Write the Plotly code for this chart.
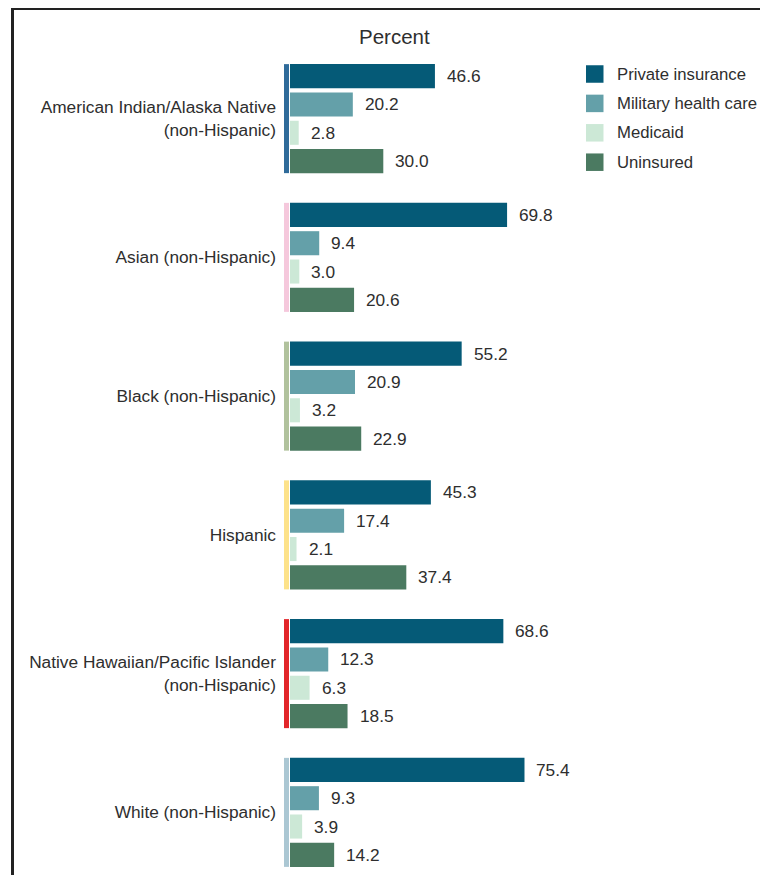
import plotly.graph_objects as go

groups = [
    "American Indian/Alaska Native<br>(non-Hispanic)",
    "Asian (non-Hispanic)",
    "Black (non-Hispanic)",
    "Hispanic",
    "Native Hawaiian/Pacific Islander<br>(non-Hispanic)",
    "White (non-Hispanic)",
]
group_colors = ["#2f6b9a", "#f5c8dc", "#b1c29d", "#fde28a", "#e2262a", "#abc7d3"]

series_names = ["Private insurance", "Military health care", "Medicaid", "Uninsured"]
series_colors = ["#055a77", "#64a0a9", "#cce8d6", "#4b7a61"]

private = [46.6, 69.8, 55.2, 45.3, 68.6, 75.4]
military = [20.2, 9.4, 20.9, 17.4, 12.3, 9.3]
medicaid = [2.8, 3.0, 3.2, 2.1, 6.3, 3.9]
uninsured = [30.0, 20.6, 22.9, 37.4, 18.5, 14.2]
series_values = [private, military, medicaid, uninsured]

OFF = 8  # page body margin
W, H = 768 - OFF, 883 - 2 * OFF
ML, MR, MT, MB = 284 - OFF, 0, 62 - OFF, 6
PW, PH = W - ML - MR, H - MT - MB
G = 4.9          # group pitch in slot units
BW = 0.85        # bar thickness in slot units
PXU = 3.11       # px per percent
XMIN = -6 / PXU
XMAX = (W - (290 - OFF)) / PXU
FONT = "Liberation Sans, Arial, sans-serif"
TXT = "#2e2e2e"
FS = 17.3
FS_LEG = 16.7


def px2paper_x(px):
    return (px - OFF - ML) / PW


def px2paper_y(py):
    return 1 - (py - OFF - MT) / PH


fig = go.Figure()
annotations = []
shapes = []

for k, (name, color, vals) in enumerate(zip(series_names, series_colors, series_values)):
    ys = [g * G + k for g in range(len(groups))]
    fig.add_trace(go.Bar(
        x=vals, y=ys, orientation="h", width=BW, name=name,
        marker=dict(color=color, line=dict(width=0)), showlegend=False,
        hoverinfo="x+name",
    ))
    for v, yy in zip(vals, ys):
        annotations.append(dict(
            x=v, y=yy, xref="x", yref="y", text=f"{v:.1f}", showarrow=False,
            xanchor="left", yanchor="middle", xshift=10,
            font=dict(family=FONT, size=FS, color=TXT),
        ))

# group color strips
for g, c in enumerate(group_colors):
    shapes.append(dict(
        type="rect", xref="x", yref="y",
        x0=XMIN, x1=-1.0 / PXU,
        y0=g * G - BW / 2, y1=g * G + 3 + BW / 2,
        fillcolor=c, line=dict(width=0), layer="above",
    ))

# manual legend
for i, (name, color) in enumerate(zip(series_names, series_colors)):
    cy = 74 + i * 29.4
    shapes.append(dict(
        type="rect", xref="paper", yref="paper",
        x0=px2paper_x(586), x1=px2paper_x(603.5),
        y0=px2paper_y(cy + 8.75), y1=px2paper_y(cy - 8.75),
        fillcolor=color, line=dict(width=0),
    ))
    annotations.append(dict(
        x=px2paper_x(614.5), y=px2paper_y(cy), xref="paper", yref="paper",
        text=name, showarrow=False, xanchor="left", yanchor="middle",
        font=dict(family=FONT, size=FS_LEG, color=TXT),
    ))

# title "Percent"
annotations.append(dict(
    x=px2paper_x(394.5), y=px2paper_y(36), xref="paper", yref="paper",
    text="Percent", showarrow=False, xanchor="center", yanchor="middle",
    font=dict(family=FONT, size=20.5, color=TXT),
))

# frame lines (top and left)
shapes.append(dict(type="line", xref="paper", yref="paper",
                   x0=px2paper_x(11), x1=px2paper_x(790),
                   y0=px2paper_y(8.5), y1=px2paper_y(8.5),
                   line=dict(color="#222222", width=3)))
shapes.append(dict(type="line", xref="paper", yref="paper",
                   x0=px2paper_x(12.5), x1=px2paper_x(12.5),
                   y0=px2paper_y(7), y1=px2paper_y(900),
                   line=dict(color="#222222", width=3)))

fig.update_layout(
    width=W, height=H,
    margin=dict(l=ML, r=MR, t=MT, b=MB),
    paper_bgcolor="white", plot_bgcolor="white",
    barmode="overlay",
    xaxis=dict(range=[XMIN, XMAX], visible=False, fixedrange=True),
    yaxis=dict(
        range=[(len(groups) - 1) * G + 3 + 0.5, -0.5],
        tickvals=[g * G + 1.5 for g in range(len(groups))],
        ticktext=groups, showgrid=False, zeroline=False, showline=False,
        ticks="", ticklabelstandoff=7,
        tickfont=dict(family=FONT, size=FS, color=TXT),
        fixedrange=True,
    ),
    annotations=annotations, shapes=shapes,
    showlegend=False,
)

fig.write_html("out.html")
